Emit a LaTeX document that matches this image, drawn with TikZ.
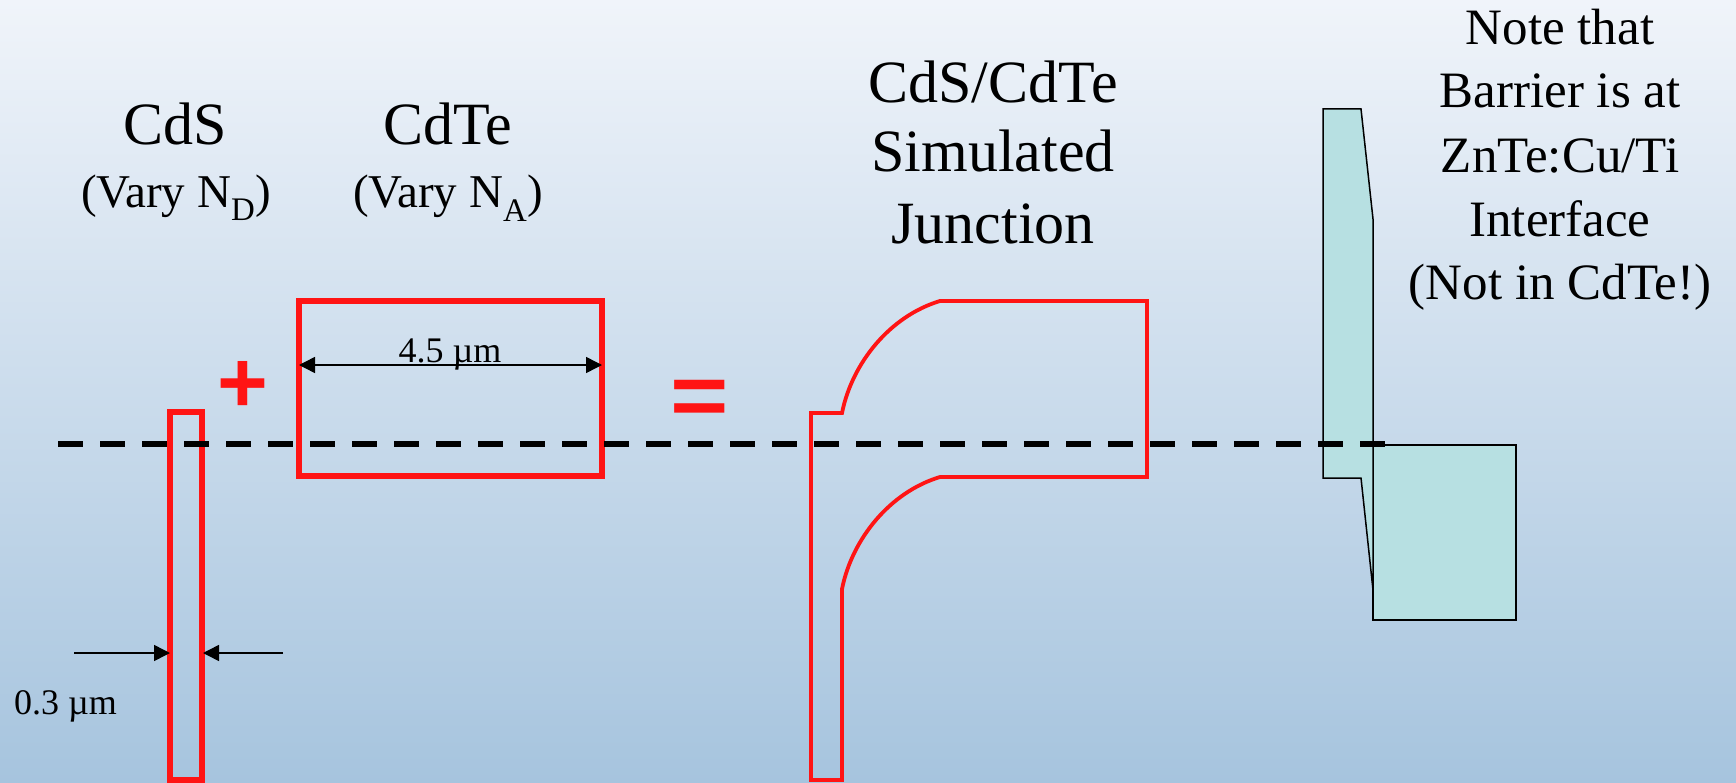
\documentclass[tikz,border=0pt]{standalone}
\usepackage{fontspec}
\setmainfont{Liberation Serif}
\newfontfamily\symfont{Liberation Sans}
\usetikzlibrary{arrows.meta}
\definecolor{bgtop}{RGB}{240,244,250}
\definecolor{bgbot}{RGB}{166,196,222}
\definecolor{redl}{RGB}{255,20,20}
\definecolor{cyanf}{RGB}{183,224,226}
\tikzset{
  redbox/.style={draw=redl, line width=5.5pt, inner sep=0pt, minimum width=0pt, minimum height=0pt},
  cyanpart/.style={fill=cyanf, draw=black, line width=1.5pt, line join=miter},
  dimarrow/.style={-{Triangle[length=16pt,width=16pt]}, line width=1.5pt, black},
  dimboth/.style={{Triangle[length=16pt,width=16pt]}-{Triangle[length=16pt,width=16pt]}, line width=1.5pt, black},
  dashline/.style={draw=black, line width=6pt, dash pattern=on 25pt off 17pt},
  big/.style={font=\fontsize{60}{70}\selectfont, anchor=base, inner sep=0pt},
  mid/.style={font=\fontsize{47}{54}\selectfont, anchor=base, inner sep=0pt},
  note/.style={font=\fontsize{51}{60}\selectfont, anchor=base, inner sep=0pt},
  dimtext/.style={font=\fontsize{36}{42}\selectfont, anchor=base, inner sep=0pt},
  opsign/.style={font=\symfont\bfseries\fontsize{87}{90}\selectfont, text=redl, anchor=base, inner sep=0pt}
}
\begin{document}
\begin{tikzpicture}[x=1pt,y=-1pt]
\shade[top color=bgtop, bottom color=bgbot] (0,0) rectangle (1736,783);
\useasboundingbox (0,0) rectangle (1736,783);

% titles
\node[big] (tcds) at (175,145) {CdS};
\node[mid] (vcds) at (176,208) {(Vary N\textsubscript{D})};
\node[big] (tcdte) at (448,145) {CdTe};
\node[mid] (vcdte) at (448,208) {(Vary N\textsubscript{A})};
\node[big] (j1) at (993,103) {CdS/CdTe};
\node[big] (j2) at (993,172) {Simulated};
\node[big] (j3) at (993,244) {Junction};
\node[note] (n1) at (1560,45) {Note that};
\node[note] (n2) at (1560,108) {Barrier is at};
\node[note] (n3) at (1560,173) {ZnTe:Cu/Ti};
\node[note] (n4) at (1560,237) {Interface};
\node[note] (n5) at (1560,300) {(Not in CdTe!)};

% operators
\node[opsign] (plus) at (243,412) {+};
\node[opsign, xscale=1.15] (eq) at (700,425) {=};

% CdS layer
\node[redbox, minimum width=32pt, minimum height=368pt] (cds) at (186,596) {};
% CdTe layer
\node[redbox, minimum width=303pt, minimum height=175pt] (cdte) at (450.5,388.5) {};

% dimension 0.3 um
\coordinate (a1s) at (74,653);
\coordinate (a1e) at (170,653);
\coordinate (a2s) at (283,653);
\coordinate (a2e) at (203,653);
\draw[dimarrow] (a1s) -- (a1e);
\draw[dimarrow] (a2s) -- (a2e);
\node[dimtext, anchor=base west] (d03) at (14,714) {0.3 µm};

% dimension 4.5 um
\coordinate (b1) at (299,365);
\coordinate (b2) at (602,365);
\draw[dimboth] (b1) -- (b2);
\node[dimtext] (d45) at (450,362) {4.5 µm};

% simulated junction
\draw[draw=redl, line width=3.8pt, line join=miter]
  (811,780) -- (811,413) -- (842,413)
  .. controls (852,363) and (890,316) .. (940,301)
  -- (1147,301) -- (1147,477) -- (940,477)
  .. controls (890,492) and (852,539) .. (842,589)
  -- (842,780) -- cycle;

% barrier sketch
\node[cyanpart, minimum width=143pt, minimum height=175pt, inner sep=0pt] (box) at (1444.5,532.5) {};
\draw[cyanpart] (1323,109) -- (1361,109) -- (1373,219) -- (1373,590) -- (1361,478) -- (1323,478) -- cycle;

% dashed reference line
\coordinate (dl1) at (58,444);
\coordinate (dl2) at (1387,444);
\draw[dashline] (dl1) -- (dl2);
\end{tikzpicture}
\end{document}
